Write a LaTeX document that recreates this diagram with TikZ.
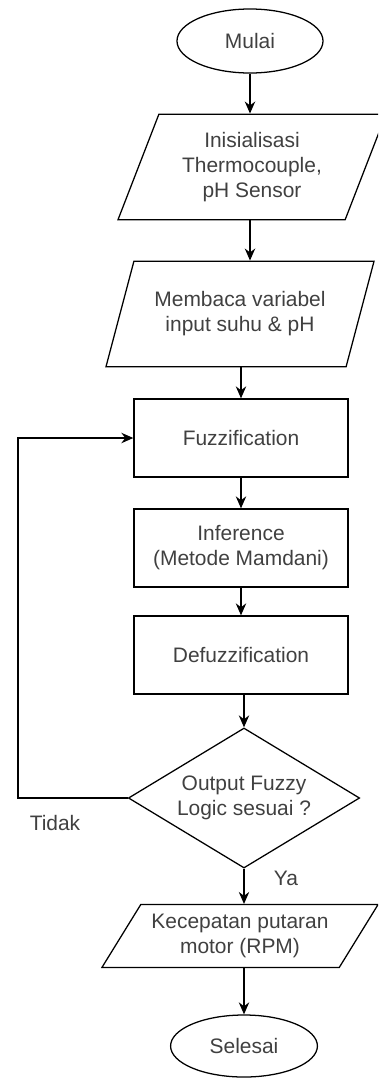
\documentclass[tikz,border=0pt]{standalone}
\usepackage{fontspec}
\setmainfont{Liberation Sans}
\usetikzlibrary{shapes.geometric,arrows.meta}

\begin{document}
\begin{tikzpicture}[x=0.025cm,y=-0.025cm,>={Stealth[length=3mm,width=2.6mm]},line width=0.9pt,
  term/.style={draw,ellipse,inner sep=0pt,minimum width=3.65cm,minimum height=1.6cm,align=center,text=black!75,font=\fontsize{14.9}{17.8}\selectfont},
  io/.style={draw,trapezium,trapezium left angle=62.6,trapezium right angle=117.4,trapezium stretches body,minimum width=6.7cm,minimum height=2.64cm,align=center,text=black!75,font=\fontsize{14.9}{17.8}\selectfont},
  proc/.style={draw,rectangle,minimum width=5.35cm,minimum height=1.95cm,align=center,text=black!75,font=\fontsize{14.9}{17.8}\selectfont},
  dec/.style={draw,diamond,aspect=1.65,inner sep=0pt,minimum width=5.78cm,minimum height=3.5cm,align=center,text=black!75,font=\fontsize{14.9}{17.8}\selectfont},
  lab/.style={text=black!75,font=\fontsize{14.9}{17.8}\selectfont}]
  \clip (0,0) rectangle (378,1080);
  \node[term] (mulai) at (250,41) {Mulai};
  \node[io] (init) at (252,167) {Inisialisasi\\Thermocouple,\\pH Sensor};
  \node[io] (baca) at (240,314) {Membaca variabel\\input suhu \& pH};
  \node[proc] (fuzz) at (241,438) {Fuzzification};
  \node[proc] (infer) at (241,548) {Inference\\(Metode Mamdani)};
  \node[proc] (defuzz) at (241,655) {Defuzzification};
  \node[dec] (cek) at (244,798) {Output Fuzzy\\Logic sesuai ?};
  \node[io,trapezium left angle=53.9,trapezium right angle=126.1,minimum width=6.9cm,minimum height=1.57cm] (rpm) at (240,936) {Kecepatan putaran\\motor (RPM)};
  \node[term,minimum width=3.67cm,minimum height=1.55cm] (selesai) at (244,1046) {Selesai};
  \coordinate (balik) at (18,438);
  \node[lab] (tidak) at (55,823) {Tidak};
  \node[lab] (ya) at (286,878) {Ya};
  \draw[->] (mulai) -- (mulai |- init.north);
  \draw[->] (init.south -| mulai) -- (baca.north -| mulai);
  \draw[->] (baca.south -| fuzz) -- (fuzz);
  \draw[->] (fuzz) -- (infer);
  \draw[->] (infer) -- (defuzz);
  \draw[->] (defuzz.south -| cek) -- (cek);
  \draw[->] (cek) -- (cek |- rpm.north);
  \draw[->] (rpm.south -| selesai) -- (selesai);
  \draw[->] (cek.west) -| (balik) -- (fuzz.west);
\end{tikzpicture}
\end{document}
